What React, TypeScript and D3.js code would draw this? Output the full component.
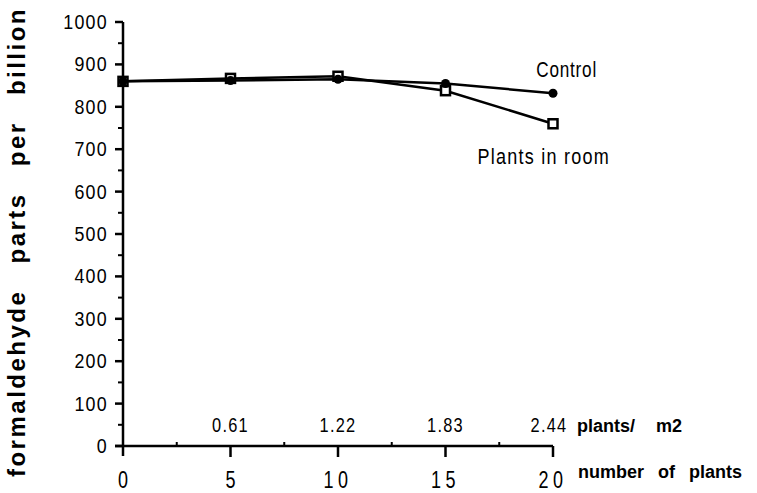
import React from "react";
import * as d3 from "d3";

const plantCounts = [0, 5, 10, 15, 20];
const controlValues = [860, 862, 865, 855, 832];
const plantsValues = [860, 867, 872, 838, 760];
const densityLabels = ["0.61", "1.22", "1.83", "2.44"];
const densityAt = [5, 10, 15, 20];
const yTicks = d3.range(0, 1001, 100);
const yMinor = d3.range(50, 1000, 100);
const xMinor = [2.5, 7.5, 12.5, 17.5];

const W = 757;
const H = 493;
const sans = "'Liberation Sans', Arial, sans-serif";

// narrow-looking text: squeeze horizontally around the anchor point
function Narrow({ x, y, sx = 0.82, anchor = "start", size = 20, spacing = 0, children }: any) {
  return (
    <text
      transform={`translate(${x},${y}) scale(${sx},1)`}
      textAnchor={anchor}
      fontFamily={sans}
      fontSize={size}
      letterSpacing={spacing}
      fill="#000"
    >
      {children}
    </text>
  );
}

export default function App() {
  const x = d3.scaleLinear().domain([0, 20]).range([123, 553]);
  const y = d3.scaleLinear().domain([0, 1000]).range([446, 22]);

  const line = d3
    .line<number>()
    .x((_, i) => x(plantCounts[i]))
    .y((d) => y(d));

  return (
    <svg
      width={W}
      height={H}
      style={{ position: "fixed", left: 0, top: 0, background: "#fff" }}
    >
      {/* axes */}
      <g stroke="#000" strokeWidth={2.5} fill="none">
        <line x1={x(0)} x2={x(0)} y1={y(1000)} y2={y(0) + 10} />
        <line x1={x(0) - 8} x2={x(20)} y1={y(0)} y2={y(0)} />
        {yTicks.map((t) => (
          <line key={"yt" + t} x1={x(0) - 8} x2={x(0)} y1={y(t)} y2={y(t)} />
        ))}
        {yMinor.map((t) => (
          <line key={"ym" + t} x1={x(0) - 5} x2={x(0)} y1={y(t)} y2={y(t)} strokeWidth={2} />
        ))}
        {plantCounts.slice(1).map((t) => (
          <line key={"xt" + t} x1={x(t)} x2={x(t)} y1={y(0)} y2={y(0) + 11} />
        ))}
        {xMinor.map((t) => (
          <line key={"xm" + t} x1={x(t)} x2={x(t)} y1={y(0) - 4} y2={y(0)} strokeWidth={2} />
        ))}
      </g>

      {/* y tick labels */}
      {yTicks.map((t) => (
        <Narrow key={"yl" + t} x={108} y={y(t) + 7} anchor="end" size={21} sx={0.85} spacing={1.5}>
          {t}
        </Narrow>
      ))}

      {/* x tick labels */}
      {plantCounts.map((t) => (
        <Narrow key={"xl" + t} x={x(t)} y={488} anchor="middle" size={24} sx={0.75} spacing={t >= 10 ? 6 : 0}>
          {t}
        </Narrow>
      ))}

      {/* density labels */}
      {densityLabels.map((d, i) => (
        <Narrow key={d} x={x(densityAt[i]) - (i === 3 ? 4 : 0)} y={432} anchor="middle" size={20} sx={0.82} spacing={1.5}>
          {d}
        </Narrow>
      ))}
      <text x={577} y={432} fontFamily={sans} fontWeight="bold" fontSize={18} wordSpacing={16}>
        plants/ m2
      </text>
      <text x={578} y={478} fontFamily={sans} fontWeight="bold" fontSize={18} wordSpacing={9}>
        number of plants
      </text>

      {/* y title */}
      <text
        transform={`translate(25,242) rotate(-90)`}
        textAnchor="middle"
        fontFamily={sans}
        fontWeight="bold"
        fontSize={24}
        letterSpacing={2.5}
        wordSpacing={17}
      >
        formaldehyde parts per billion
      </text>

      {/* series */}
      <path d={line(controlValues) || ""} fill="none" stroke="#000" strokeWidth={2.5} />
      <path d={line(plantsValues) || ""} fill="none" stroke="#000" strokeWidth={2.5} />
      {plantsValues.map((v, i) => (
        <rect
          key={"p" + i}
          x={x(plantCounts[i]) - 4.5}
          y={y(v) - 4.5}
          width={9}
          height={9}
          fill="#fff"
          stroke="#000"
          strokeWidth={2.5}
        />
      ))}
      {controlValues.map((v, i) => (
        <circle key={"c" + i} cx={x(plantCounts[i])} cy={y(v)} r={4.5} fill="#000" />
      ))}

      {/* series labels */}
      <Narrow x={597} y={77} anchor="end" size={22} sx={0.78} spacing={1}>
        Control
      </Narrow>
      <Narrow x={610} y={164} anchor="end" size={22} sx={0.82} spacing={1.5}>
        Plants in room
      </Narrow>
    </svg>
  );
}
